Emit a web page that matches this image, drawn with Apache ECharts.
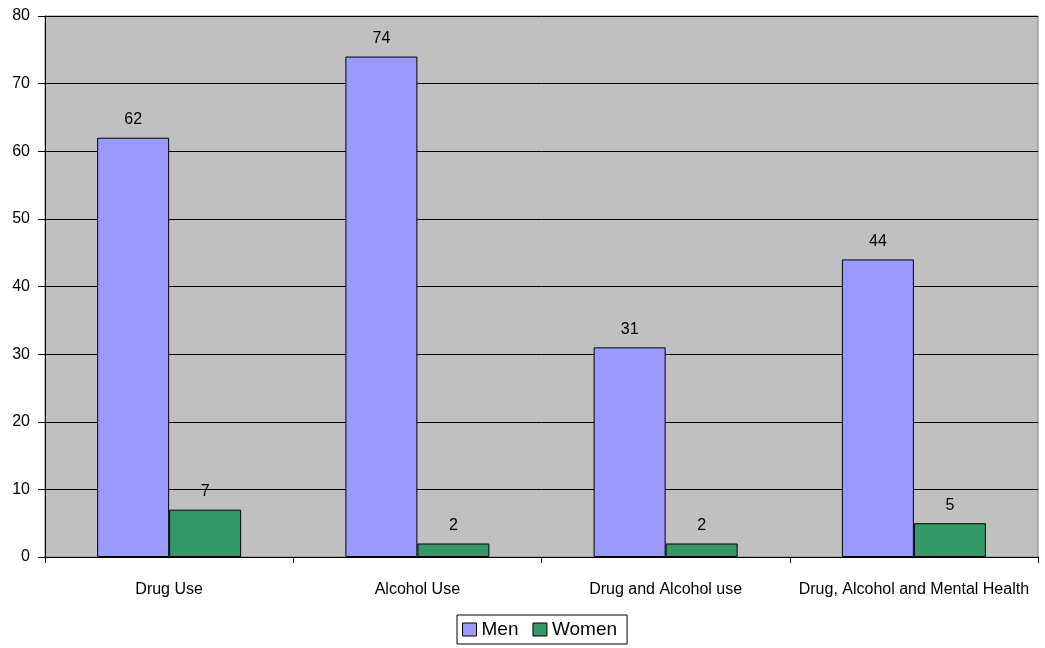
<!DOCTYPE html>
<html>
<head>
<meta charset="utf-8">
<script src="https://cdn.jsdelivr.net/npm/echarts@6/dist/echarts.min.js"></script>
<style>
  html, body { margin: 0; padding: 0; background: #fff; }
  #chart { width: 1045px; height: 648px; }
</style>
</head>
<body>
<div id="chart"></div>
<script>
const categories = ['Drug Use', 'Alcohol Use', 'Drug and Alcohol use', 'Drug, Alcohol and Mental Health'];
const menValues = [62, 74, 31, 44];
const womenValues = [7, 2, 2, 5];
const seriesNames = ['Men', 'Women'];

const FONT = '"Liberation Sans", Arial, sans-serif';

const chart = echarts.init(document.getElementById('chart'));
chart.setOption({
  animation: false,
  textStyle: { fontFamily: FONT },
  grid: {
    left: 45, right: 7, top: 16, bottom: 91,
    show: true,
    backgroundColor: '#C0C0C0',
    borderColor: '#808080',
    borderWidth: 1
  },
  legend: {
    data: seriesNames,
    bottom: 4,
    left: 457,
    itemWidth: 14,
    itemHeight: 13,
    itemGap: 14,
    borderColor: '#000',
    borderWidth: 1,
    borderRadius: 0,
    padding: [5, 10, 5, 5],
    icon: 'rect',
    textStyle: { fontSize: 19, color: '#000', fontFamily: FONT, padding: [0, 0, 0, 0] },
    itemStyle: { borderColor: '#000', borderWidth: 1 }
  },
  xAxis: {
    type: 'category',
    data: categories,
    axisLine: { lineStyle: { color: '#000', width: 1 } },
    axisTick: { show: true, interval: 0, length: 6, lineStyle: { color: '#000' } },
    axisLabel: { interval: 0, color: '#000', fontSize: 16, margin: 25 },
    splitLine: { show: false }
  },
  yAxis: {
    type: 'value',
    min: 0,
    max: 80,
    interval: 10,
    axisLine: { show: true, lineStyle: { color: '#000', width: 1 } },
    axisTick: { show: true, length: 7, lineStyle: { color: '#000' } },
    axisLabel: { color: '#000', fontSize: 16, margin: 15 },
    splitLine: { show: true, lineStyle: { color: '#000', width: 1 } }
  },
  series: [
    {
      name: seriesNames[0],
      type: 'bar',
      data: menValues,
      barGap: '0%',
      barCategoryGap: '42%',
      itemStyle: { color: '#9999FF', borderColor: '#000', borderWidth: 1 },
      label: { show: true, position: 'top', distance: 10, color: '#000', fontSize: 16 }
    },
    {
      name: seriesNames[1],
      type: 'bar',
      data: womenValues,
      itemStyle: { color: '#339966', borderColor: '#000', borderWidth: 1 },
      label: { show: true, position: 'top', distance: 10, color: '#000', fontSize: 16 }
    }
  ]
});
</script>
</body>
</html>
